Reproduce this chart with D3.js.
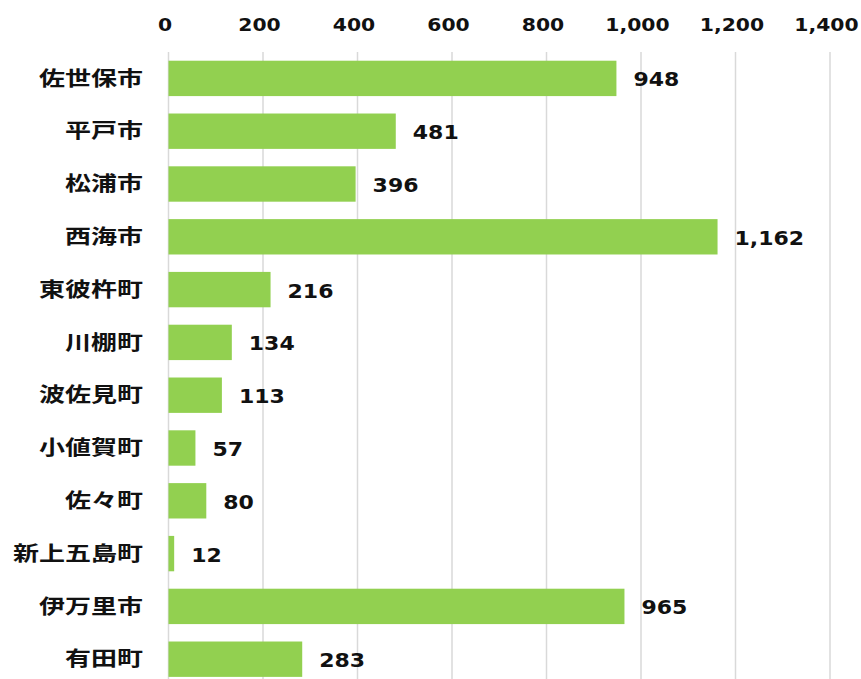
<!DOCTYPE html>
<html><head><meta charset="utf-8">
<script src="https://cdn.jsdelivr.net/npm/d3@7"></script>
<style>body{margin:0;background:#fff}</style>
</head><body>
<svg id="c" width="861" height="679"></svg>
<script>
const categories = ["佐世保市","平戸市","松浦市","西海市","東彼杵町","川棚町","波佐見町","小値賀町","佐々町","新上五島町","伊万里市","有田町"];
const values = [948,481,396,1162,216,134,113,57,80,12,965,283];
const tickValues = [0,200,400,600,800,1000,1200,1400];

const svg = d3.select("#c");
const x = d3.scaleLinear().domain([0,1400]).range([168.5,830]);
const y = d3.scaleBand().domain(categories).range([52,685.6]).paddingInner(0.33).paddingOuter(0.165);
const fmt = d3.format(",");

// gridlines
svg.append("g").selectAll("line").data(tickValues).join("line")
  .attr("x1",d=>x(d)).attr("x2",d=>x(d)).attr("y1",52).attr("y2",679)
  .attr("stroke","#d9d9d9").attr("stroke-width",1.5);

// top axis
const axis = svg.append("g").attr("transform","translate(0,25)")
  .call(d3.axisTop(x).tickValues(tickValues).tickFormat(fmt).tickSize(0).tickPadding(0));
axis.select(".domain").remove();
axis.selectAll("text")
  .attr("font-family","DejaVu Sans").attr("font-weight","bold").attr("font-size",18)
  .attr("fill","#111").attr("y",0).attr("dy","0.35em")
  .attr("transform","translate(-4,0) scale(1.13,1)");

// bars
svg.append("g").selectAll("rect").data(values).join("rect")
  .attr("x",x(0)).attr("y",(d,i)=>y(categories[i]))
  .attr("width",d=>x(d)-x(0)).attr("height",y.bandwidth())
  .attr("fill","#92d050");

// value labels
svg.append("g").selectAll("text").data(values).join("text")
  .attr("font-family","DejaVu Sans").attr("font-weight","bold").attr("font-size",20)
  .attr("fill","#111").attr("dy","0.35em")
  .attr("transform",(d,i)=>`translate(${x(d)+17},${y(categories[i])+y.bandwidth()/2+1}) scale(1.1,1)`)
  .text(d=>fmt(d));

// category labels
svg.append("g").selectAll("text").data(categories).join("text")
  .attr("font-family","'Noto Sans CJK JP'").attr("font-weight","bold").attr("font-size",20)
  .attr("fill","#111").attr("text-anchor","end").attr("dy","0.36em")
  .attr("transform",d=>`translate(143,${y(d)+y.bandwidth()/2}) scale(1.3,1)`)
  .text(d=>d);
</script>
</body></html>
